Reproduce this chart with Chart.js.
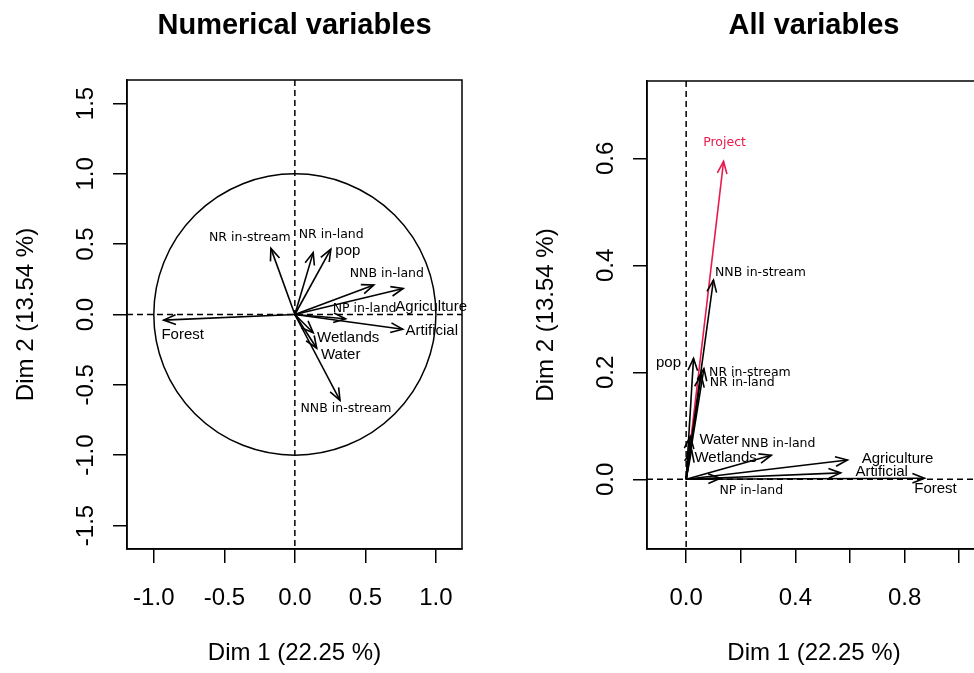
<!DOCTYPE html>
<html>
<head>
<meta charset="utf-8">
<script src="https://cdn.jsdelivr.net/npm/chart.js@4.4.1/dist/chart.umd.min.js"></script>
<style>
  html, body { margin: 0; padding: 0; background: #fff; overflow: hidden; }
  #wrap { position: relative; width: 974px; height: 673px; overflow: hidden; background: #fff; }
  .panel { position: absolute; top: 0; height: 673px; }
  #left { left: 0; width: 487px; }
  #right { left: 487px; width: 560px; }
</style>
</head>
<body>
<div id="wrap">
  <div class="panel" id="left"><canvas id="numChart"></canvas></div>
  <div class="panel" id="right"><canvas id="allChart"></canvas></div>
</div>
<script>
// ===== DATA =====
// Numerical variables (correlation circle)
const numNames = ['Forest', 'NR in-stream', 'NR in-land', 'pop', 'NNB in-land', 'Agriculture',
                  'NP in-land', 'Artificial', 'Wetlands', 'Water', 'NNB in-stream'];
const numDim1 = [-0.93, -0.17, 0.13, 0.255, 0.56, 0.768, 0.36, 0.765, 0.13, 0.155, 0.32];
const numDim2 = [-0.04, 0.47, 0.44, 0.465, 0.21, 0.185, -0.03, -0.105, -0.13, -0.24, -0.61];

// All variables
const allNames = ['Forest', 'NR in-stream', 'NR in-land', 'pop', 'NNB in-land', 'Agriculture',
                  'NP in-land', 'Artificial', 'Wetlands', 'Water', 'NNB in-stream', 'Project'];
const allDim1 = [0.873, 0.065, 0.055, 0.027, 0.312, 0.591, 0.125, 0.566, 0.02, 0.015, 0.1, 0.137];
const allDim2 = [0.002, 0.207, 0.195, 0.226, 0.045, 0.036, 0.002, 0.012, 0.055, 0.08, 0.3725, 0.594];

// Tick values and labels
const numXTicks = [-1, -0.5, 0, 0.5, 1];
const numXLabels = ['-1.0', '-0.5', '0.0', '0.5', '1.0'];
const numYTicks = [-1.5, -1, -0.5, 0, 0.5, 1, 1.5];
const numYLabels = ['-1.5', '-1.0', '-0.5', '0.0', '0.5', '1.0', '1.5'];
const allXTicks = [0, 0.2, 0.4, 0.6, 0.8, 1.0];
const allXLabels = ['0.0', '', '0.4', '', '0.8', ''];
const allYTicks = [0, 0.2, 0.4, 0.6];
const allYLabels = ['0.0', '0.2', '0.4', '0.6'];

// ===== LAYOUT / STYLE =====
const SANS = '"Liberation Sans", Arial, sans-serif';
const DEJAVU = '"DejaVu Sans", Verdana, sans-serif';
const arialLabels = ['Forest', 'Wetlands', 'Water', 'Artificial', 'Agriculture', 'pop'];

// label offsets from the arrow tip, in pixels
const numLabelOffset = [[19, 15], [-21, -11], [18, -18], [17, 2], [13, -11.5], [28, 18],
                        [19, -10], [29, 2], [35, 5], [24, 7], [6, 8.5]];
const allLabelOffset = [[11, 11], [46, 4], [41, 8], [-25, 4], [7, -11], [50, -1],
                        [31, 13], [41, -1], [34, 8], [29, 3.5], [47, -7], [1, -19]];

const panels = {
  numChart: {
    title: 'Numerical variables', xTitle: 'Dim 1 (22.25 %)', yTitle: 'Dim 2 (13.54 %)',
    xTicks: numXTicks, xLabels: numXLabels, yTicks: numYTicks, yLabels: numYLabels,
    names: numNames, offsets: numLabelOffset, circle: true
  },
  allChart: {
    title: 'All variables', xTitle: 'Dim 1 (22.25 %)', yTitle: 'Dim 2 (13.54 %)',
    xTicks: allXTicks, xLabels: allXLabels, yTicks: allYTicks, yLabels: allYLabels,
    names: allNames, offsets: allLabelOffset, circle: false
  }
};

// ===== R-STYLE DECORATIONS =====
const rPlot = {
  id: 'rPlot',
  beforeDatasetsDraw(chart) {
    const cfg = panels[chart.canvas.id];
    const { ctx, chartArea: a } = chart;
    const x = chart.scales.x, y = chart.scales.y;
    const x0 = x.getPixelForValue(0), y0 = y.getPixelForValue(0);
    ctx.save();
    ctx.strokeStyle = '#000';
    ctx.lineWidth = 1.5;
    ctx.setLineDash([6, 4]);
    ctx.beginPath();
    ctx.moveTo(a.left, y0); ctx.lineTo(a.right, y0);
    ctx.moveTo(x0, a.top); ctx.lineTo(x0, a.bottom);
    ctx.stroke();
    ctx.setLineDash([]);
    if (cfg.circle) {
      const rx = x.getPixelForValue(1) - x0;
      const ry = y0 - y.getPixelForValue(1);
      ctx.beginPath();
      ctx.ellipse(x0, y0, rx, ry, 0, 0, Math.PI * 2);
      ctx.stroke();
    }
    ctx.restore();
  },
  afterDatasetsDraw(chart) {
    const cfg = panels[chart.canvas.id];
    const ctx = chart.ctx;
    ctx.save();
    chart.data.datasets.forEach((ds, i) => {
      const pts = chart.getDatasetMeta(i).data;
      const p0 = pts[0], p1 = pts[1];
      const ang = Math.atan2(p1.y - p0.y, p1.x - p0.x);
      const len = 13, spread = 0.38;
      ctx.strokeStyle = ds.borderColor;
      ctx.lineWidth = 1.6;
      ctx.beginPath();
      ctx.moveTo(p1.x - len * Math.cos(ang - spread), p1.y - len * Math.sin(ang - spread));
      ctx.lineTo(p1.x, p1.y);
      ctx.lineTo(p1.x - len * Math.cos(ang + spread), p1.y - len * Math.sin(ang + spread));
      ctx.stroke();

      const name = cfg.names[i];
      const off = cfg.offsets[i];
      ctx.fillStyle = ds.borderColor;
      ctx.font = arialLabels.includes(name) ? '15px ' + SANS : '12.5px ' + DEJAVU;
      ctx.textAlign = 'center';
      ctx.textBaseline = 'middle';
      ctx.fillText(name, p1.x + off[0], p1.y + off[1]);
    });
    ctx.restore();
  },
  afterDraw(chart) {
    const cfg = panels[chart.canvas.id];
    const { ctx, chartArea: a } = chart;
    const x = chart.scales.x, y = chart.scales.y;
    ctx.save();
    ctx.strokeStyle = '#000';
    ctx.lineWidth = 1.5;
    ctx.strokeRect(a.left, a.top, a.right - a.left, a.bottom - a.top);

    ctx.fillStyle = '#000';
    ctx.font = '24px ' + SANS;
    ctx.textAlign = 'center';
    ctx.textBaseline = 'alphabetic';
    cfg.xTicks.forEach((v, i) => {
      ctx.fillText(cfg.xLabels[i], x.getPixelForValue(v), a.bottom + 56);
    });
    ctx.fillText(cfg.xTitle, (a.left + a.right) / 2, a.bottom + 111);

    cfg.yTicks.forEach((v, i) => {
      ctx.save();
      ctx.translate(a.left - 34, y.getPixelForValue(v));
      ctx.rotate(-Math.PI / 2);
      ctx.fillText(cfg.yLabels[i], 0, 0);
      ctx.restore();
    });
    ctx.save();
    ctx.translate(a.left - 94, (a.top + a.bottom) / 2);
    ctx.rotate(-Math.PI / 2);
    ctx.fillText(cfg.yTitle, 0, 0);
    ctx.restore();

    ctx.font = 'bold 29px ' + SANS;
    ctx.fillText(cfg.title, (a.left + a.right) / 2, 34);
    ctx.restore();
  }
};

// ===== CHART BUILDER =====
function makeChart(id, names, dim1, dim2, range, xTicks, yTicks, padding) {
  const datasets = names.map((n, i) => ({
    label: n,
    data: [{ x: 0, y: 0 }, { x: dim1[i], y: dim2[i] }],
    showLine: true,
    borderColor: n === 'Project' ? '#e8194b' : '#000000',
    borderWidth: 1.6,
    pointRadius: 0,
    pointHoverRadius: 0
  }));

  const axis = (ticks, min, max, pos) => ({
    type: 'linear',
    position: pos,
    min: min,
    max: max,
    afterBuildTicks: (scale) => { scale.ticks = ticks.map(v => ({ value: v })); },
    ticks: { display: false },
    grid: {
      drawOnChartArea: false,
      drawTicks: true,
      tickLength: 14,
      color: '#000',
      lineWidth: 1.5
    },
    border: { display: true, color: '#000', width: 1.5 }
  });

  return new Chart(document.getElementById(id), {
    type: 'scatter',
    data: { datasets: datasets },
    options: {
      responsive: true,
      maintainAspectRatio: false,
      animation: false,
      events: [],
      layout: { padding: padding, autoPadding: false },
      plugins: { legend: { display: false }, tooltip: { enabled: false } },
      scales: {
        x: axis(xTicks, range[0], range[1], 'bottom'),
        y: axis(yTicks, range[2], range[3], 'left')
      }
    },
    plugins: [rPlot]
  });
}

makeChart('numChart', numNames, numDim1, numDim2, [-1.19, 1.185, -1.667, 1.667],
          numXTicks, numYTicks, { left: 113, top: 80, right: 25, bottom: 110 });
makeChart('allChart', allNames, allDim1, allDim2, [-0.1434, 1.08, -0.1303, 0.7445],
          allXTicks, allYTicks, { left: 146, top: 81, right: 66, bottom: 110 });
</script>
</body>
</html>
